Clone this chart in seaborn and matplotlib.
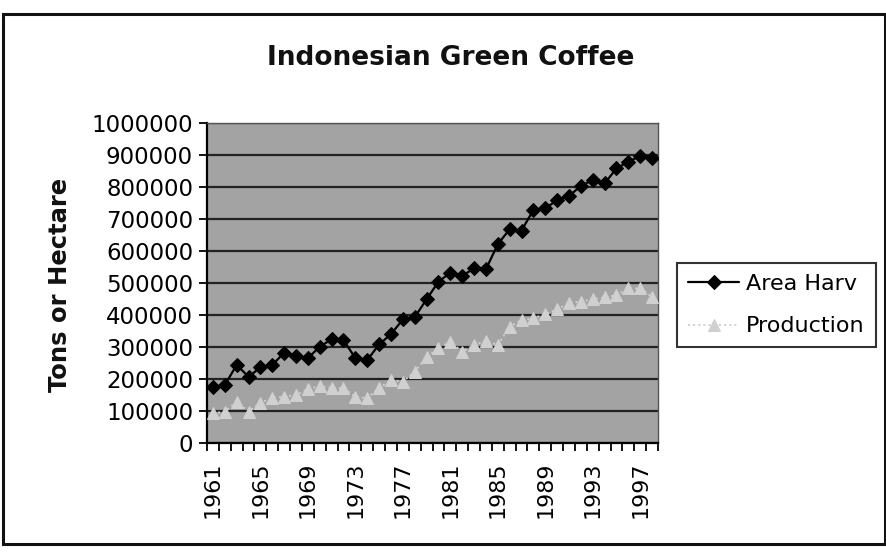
import matplotlib
matplotlib.use("Agg")
import matplotlib.pyplot as plt
from matplotlib.patches import Rectangle
from matplotlib.ticker import FixedLocator
import seaborn as sns
import pandas as pd

years = list(range(1961, 1999))
area_harv = [175000, 181000, 244000, 207000, 236000, 244000, 282000, 272000, 265000, 301000,
             324000, 322000, 265000, 259000, 308000, 340000, 386000, 393000, 449000, 504000,
             532000, 522000, 546000, 543000, 621000, 668000, 664000, 728000, 733000, 759000,
             772000, 803000, 822000, 811000, 858000, 879000, 897000, 892000]
production = [93000, 98000, 129000, 98000, 126000, 140000, 145000, 150000, 168000, 178000,
              171000, 171000, 145000, 140000, 171000, 197000, 192000, 223000, 268000, 296000,
              317000, 285000, 306000, 320000, 306000, 364000, 384000, 390000, 403000, 418000,
              437000, 442000, 449000, 455000, 462000, 483000, 483000, 457000]
tick_years = [1961, 1965, 1969, 1973, 1977, 1981, 1985, 1989, 1993, 1997]
y_ticks = list(range(0, 1000001, 100000))

df = pd.DataFrame({"Year": years, "Area Harv": area_harv, "Production": production})

sns.set_theme(style="white")
plt.rcParams["font.family"] = ["DejaVu Sans"]
plt.rcParams["text.color"] = "black"
plt.rcParams["axes.labelcolor"] = "black"

W, H = 886, 553
fig = plt.figure(figsize=(W / 100, H / 100), dpi=100)
fig.patch.set_facecolor("white")

# outer frame around the whole chart
fig.add_artist(Rectangle((3 / W, 1 - 544 / H), 882 / W, 530 / H,
                         transform=fig.transFigure, fill=False,
                         edgecolor="#111111", linewidth=2.2))

ax = fig.add_axes([207 / W, 1 - 443 / H, 451 / W, 320 / H])
ax.set_facecolor("#a3a3a3")

sns.lineplot(data=df, x="Year", y="Area Harv", ax=ax, color="black", linewidth=1.6,
             marker="D", markersize=7.5, markeredgecolor="black", label="Area Harv",
             zorder=4)
sns.lineplot(data=df, x="Year", y="Production", ax=ax, color="#d0d0d0", linewidth=1.4,
             linestyle=":", marker="^", markersize=8, markeredgecolor="#d0d0d0",
             label="Production", zorder=3)

ax.set_xlim(1960.5, 1998.5)
ax.set_ylim(0, 1000000)
ax.set_yticks(y_ticks)
ax.set_yticklabels([str(v) for v in y_ticks])
ax.yaxis.grid(True, color="#222222", linewidth=1.6)
ax.xaxis.grid(False)
ax.set_axisbelow(True)

ax.set_xticks(tick_years)
ax.set_xticklabels([str(y) for y in tick_years], rotation=90)
ax.xaxis.set_minor_locator(FixedLocator([y + 0.5 for y in range(1960, 1999)]))
ax.tick_params(axis="x", which="major", length=0, pad=13, labelsize=16, colors="black")
ax.tick_params(axis="x", which="minor", length=6, width=1.3, direction="out",
               color="black", bottom=True)
ax.tick_params(axis="y", which="major", length=6, width=1.3, direction="out",
               left=True, pad=4, labelsize=16.5, colors="black")

for side in ["left", "bottom"]:
    ax.spines[side].set_color("black")
    ax.spines[side].set_linewidth(1.6)
for side in ["top", "right"]:
    ax.spines[side].set_color("#555555")
    ax.spines[side].set_linewidth(1.0)

ax.set_xlabel("")
ax.set_ylabel("")
ax.get_legend().remove()

fig.text(451 / W, 1 - 58 / H, "Indonesian Green Coffee", ha="center", va="center",
         fontsize=19, fontweight="bold", color="#111111")
fig.text(60 / W, 1 - 285 / H, "Tons or Hectare", ha="center", va="center",
         rotation=90, fontsize=17.5, fontweight="bold", color="#111111")

handles, labels = ax.get_legend_handles_labels()
leg = fig.legend(handles, labels, loc="upper left", bbox_to_anchor=(677 / W, 1 - 263 / H),
                 bbox_transform=fig.transFigure, frameon=True, fancybox=False,
                 edgecolor="black", fontsize=16, handlelength=2.3, handletextpad=0.3,
                 borderpad=0.5, labelspacing=1.0, borderaxespad=0)
leg.get_frame().set_linewidth(1.5)
for t in leg.get_texts():
    t.set_color("black")

fig.savefig("out.png", dpi=100, facecolor="white")
